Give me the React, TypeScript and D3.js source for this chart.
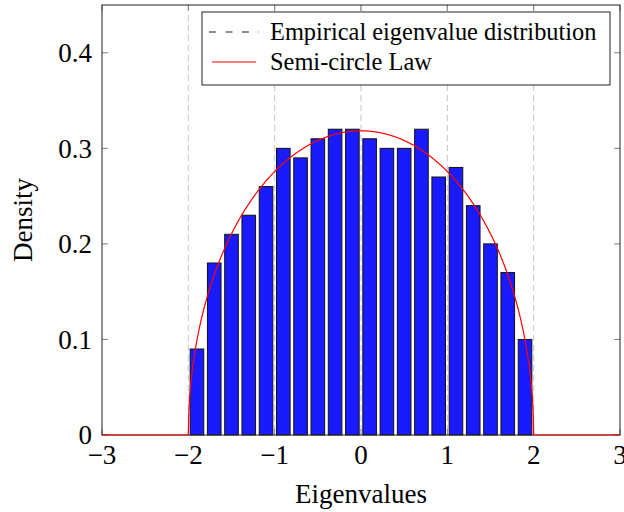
import React from "react";
import * as d3 from "d3";

const binCenters = [-1.9, -1.7, -1.5, -1.3, -1.1, -0.9, -0.7, -0.5, -0.3, -0.1, 0.1, 0.3, 0.5, 0.7, 0.9, 1.1, 1.3, 1.5, 1.7, 1.9];
const densities = [0.09, 0.18, 0.21, 0.23, 0.26, 0.30, 0.29, 0.31, 0.32, 0.32, 0.31, 0.30, 0.30, 0.32, 0.27, 0.28, 0.24, 0.20, 0.17, 0.10];
const xTicks = [-3, -2, -1, 0, 1, 2, 3];
const yTicks = [0, 0.1, 0.2, 0.3, 0.4];
const gridX = [-2, -1, 0, 1, 2];
const legendLabels = ["Empirical eigenvalue distribution", "Semi-circle Law"];

// Wigner semicircle density (radius 2)
const semicircle = (x: number) => (Math.abs(x) >= 2 ? 0 : Math.sqrt(4 - x * x) / (2 * Math.PI));

const W = 624, H = 512;
const left = 102, right = 620, top = 5, bottom = 435;
const FONT = "'Liberation Serif', 'Times New Roman', serif";

export default function App() {
  const x = d3.scaleLinear().domain([-3, 3]).range([left, right]);
  const y = d3.scaleLinear().domain([0, 0.45]).range([bottom, top]);
  const barW = 13.6;

  const curveXs = d3.range(-3, 3.0001, 0.005);
  const line = d3
    .line<number>()
    .x((d) => x(d))
    .y((d) => y(semicircle(d)));

  const fmtY = (v: number) => (v === 0 ? "0" : v.toFixed(1));
  const fmtX = (v: number) => (v < 0 ? "\u2212" + Math.abs(v) : String(v));

  return (
    <svg width={W} height={H} style={{ position: "absolute", left: 0, top: 0, background: "#fff" }}>
      {/* grid */}
      {gridX.map((g) => (
        <line key={"g" + g} x1={x(g)} x2={x(g)} y1={top} y2={bottom} stroke="#c4c4c4" strokeWidth={1} strokeDasharray="6 4" />
      ))}
      {/* bars */}
      {binCenters.map((c, i) => (
        <rect
          key={"b" + i}
          x={x(c) - barW / 2}
          y={y(densities[i])}
          width={barW}
          height={y(0) - y(densities[i])}
          fill="#1a1aff"
          stroke="#111"
          strokeWidth={1}
        />
      ))}
      {/* ticks */}
      {yTicks.map((t) => (
        <g key={"yt" + t}>
          <line x1={left} x2={left + 6} y1={y(t)} y2={y(t)} stroke="#808080" />
          <line x1={right - 6} x2={right} y1={y(t)} y2={y(t)} stroke="#808080" />
        </g>
      ))}
      {xTicks.map((t) => (
        <g key={"xt" + t}>
          <line x1={x(t)} x2={x(t)} y1={bottom} y2={bottom - 6} stroke="#808080" />
          <line x1={x(t)} x2={x(t)} y1={top} y2={top + 6} stroke="#808080" />
        </g>
      ))}
      {/* frame */}
      <rect x={left} y={top} width={right - left} height={bottom - top} fill="none" stroke="#222" strokeWidth={1} />
      {/* semicircle */}
      <path d={line(curveXs) || ""} fill="none" stroke="#ff0000" strokeWidth={1.2} />
      {/* tick labels */}
      {yTicks.map((t) => (
        <text key={"yl" + t} x={left - 10} y={y(t)} dy="0.35em" textAnchor="end" fontFamily={FONT} fontSize={27} fill="#000">
          {fmtY(t)}
        </text>
      ))}
      {xTicks.map((t) => (
        <text key={"xl" + t} x={x(t)} y={464} textAnchor="middle" fontFamily={FONT} fontSize={27} fill="#000">
          {fmtX(t)}
        </text>
      ))}
      {/* axis labels */}
      <text x={x(0)} y={503} textAnchor="middle" fontFamily={FONT} fontSize={27} fill="#000">
        Eigenvalues
      </text>
      <text transform={`translate(32,220) rotate(-90)`} textAnchor="middle" fontFamily={FONT} fontSize={27} fill="#000">
        Density
      </text>
      {/* legend */}
      <rect x={202} y={12} width={408} height={73} fill="#fff" stroke="#222" strokeWidth={1} />
      <line x1={209} x2={259} y1={32} y2={32} stroke="#6a6a6a" strokeWidth={1.3} strokeDasharray="7 9.5" />
      <line x1={212} x2={256} y1={62} y2={62} stroke="#ff0000" strokeWidth={1.2} />
      <text x={270} y={40} fontFamily={FONT} fontSize={24.4} fill="#000">
        {legendLabels[0]}
      </text>
      <text x={270} y={70} fontFamily={FONT} fontSize={24.4} fill="#000">
        {legendLabels[1]}
      </text>
    </svg>
  );
}
